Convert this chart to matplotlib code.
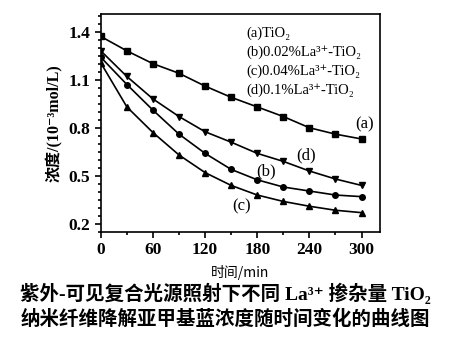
import matplotlib
matplotlib.use("Agg")
import matplotlib.pyplot as plt
from matplotlib.ticker import MultipleLocator

# irradiation time (min) and MB concentration (10^-3 mol/L) for each sample
time_min = [0, 30, 60, 90, 120, 150, 180, 210, 240, 270, 300]
conc_a = [1.37, 1.28, 1.20, 1.14, 1.06, 0.99, 0.93, 0.87, 0.80, 0.76, 0.73]
conc_b = [1.24, 1.07, 0.91, 0.76, 0.64, 0.54, 0.475, 0.43, 0.405, 0.38, 0.37]
conc_c = [1.205, 0.93, 0.77, 0.63, 0.52, 0.44, 0.38, 0.34, 0.31, 0.285, 0.27]
conc_d = [1.28, 1.12, 0.98, 0.87, 0.775, 0.71, 0.64, 0.59, 0.53, 0.48, 0.44]

legend_lines = ["(a)TiO₂", "(b)0.02%La³⁺-TiO₂", "(c)0.04%La³⁺-TiO₂", "(d)0.1%La³⁺-TiO₂"]
x_ticks = [0, 60, 120, 180, 240, 300]
y_ticks = [0.2, 0.5, 0.8, 1.1, 1.4]

serif = ["Liberation Serif", "Noto Sans CJK SC", "DejaVu Serif"]
cjk = ["Noto Sans CJK SC", "Liberation Serif", "DejaVu Sans"]
plt.rcParams["font.family"] = serif

fig = plt.figure(figsize=(4.5, 3.42), dpi=100)
ax = fig.add_axes([0.224, 0.322, 0.62, 0.637])

ax.plot(time_min, conc_a, color="black", lw=1.2, marker="s", ms=4)
ax.plot(time_min, conc_b, color="black", lw=1.2, marker="o", ms=4)
ax.plot(time_min, conc_c, color="black", lw=1.2, marker="^", ms=5)
ax.plot(time_min, conc_d, color="black", lw=1.2, marker="v", ms=5)

ax.set_xlim(0, 321)
ax.set_ylim(0.15, 1.51)
ax.set_xticks(x_ticks)
ax.set_yticks(y_ticks)
ax.xaxis.set_minor_locator(MultipleLocator(30))
ax.yaxis.set_minor_locator(MultipleLocator(0.05))
ax.tick_params(which="both", direction="out", top=False, right=False, width=1.2)
ax.tick_params(which="major", length=4, labelsize=12.5)
ax.tick_params(which="minor", length=2.5)
for lab in ax.get_xticklabels() + ax.get_yticklabels():
    lab.set_fontweight("bold")
for sp in ax.spines.values():
    sp.set_linewidth(1.2)

# legend written as plain lines of text
for i, line in enumerate(legend_lines):
    ax.text(0.523, 0.913 - i * 0.087, line, transform=ax.transAxes,
            fontsize=10.5, va="center", ha="left")

# curve tags
ax.text(303, 0.82, "(a)", fontsize=12, ha="center", va="center")
ax.text(236, 0.625, "(d)", fontsize=12, ha="center", va="center")
ax.text(190, 0.525, "(b)", fontsize=12, ha="center", va="center")
ax.text(162, 0.31, "(c)", fontsize=12, ha="center", va="center")

ax.set_xlabel("时间/min", family=cjk, fontsize=10, labelpad=5)
ax.set_ylabel("浓度/(10⁻³mol/L)", fontsize=11.5, fontweight="bold", labelpad=4)

fig.text(0.5, 1 - 293 / 342, "紫外-可见复合光源照射下不同 La³⁺ 掺杂量 TiO₂",
         fontsize=14, fontweight="bold", ha="center", va="center")
fig.text(0.5, 1 - 319 / 342, "纳米纤维降解亚甲基蓝浓度随时间变化的曲线图",
         family=cjk, fontsize=14, fontweight="bold", ha="center", va="center")

fig.savefig("out.png", dpi=100)
